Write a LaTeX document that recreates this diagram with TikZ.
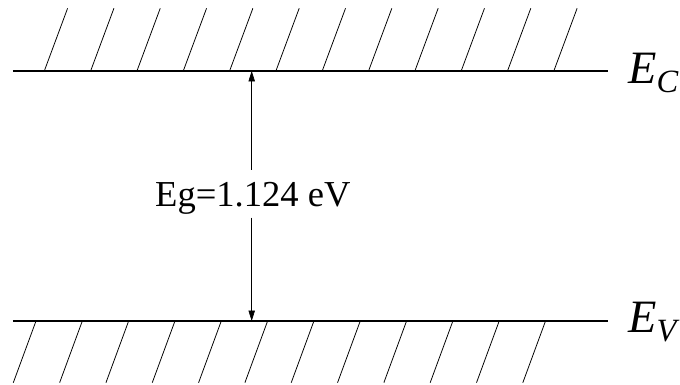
\documentclass[tikz,border=0pt]{standalone}
\usepackage{amsmath}
\usepackage{fontspec}
\setmainfont{Liberation Serif}
\usetikzlibrary{arrows.meta,positioning}
\begin{document}
\begin{tikzpicture}[
    banda/.style={line width=0.8pt},
    rayado/.style={line width=0.55pt},
    flecha/.style={line width=0.5pt,-{Triangle[length=2.6mm,width=1.6mm]}},
    nivel/.style={anchor=base west,inner sep=0pt,font=\fontsize{33}{40}\selectfont}]
	\useasboundingbox (0,0) rectangle (17,9.625);

		%Banda de conduccion
		\draw[banda] (0.325,7.85) -- (15.2,7.85);
		\foreach \i in {0,...,11}
		  \draw[rayado] (1.1075+1.158*\i,7.85) -- (1.69+1.158*\i,9.4175);
		\node[nivel] (ec) at (15.7,7.54) {$\textit{E}_{\textit{C}}$};

		%Banda de valencia
		\draw[banda] (0.325,1.6) -- (15.2,1.6);
		\draw[line width=1.6pt] (5.42,1.6) -- (6.54,1.6);
		\foreach \i in {0,...,11}
		  \draw[rayado] (0.9+1.158*\i,1.6) -- (0.3325+1.158*\i,0.0575);
		\node[nivel] (ev) at (15.7,1.31) {$\textit{E}_{\textit{V}}$};

		%Ancho de la banda prohibida
		\coordinate (arriba) at (6.2925,7.85);
		\coordinate (abajo) at (6.2925,1.6);
		\node[anchor=base,inner sep=0pt,font=\fontsize{26}{31}\selectfont] (gap) at (6.32,4.4575) {Eg=1.124 eV};
		\draw[flecha] ([yshift=9pt]gap.north -| arriba) -- (arriba);
		\draw[flecha] ([yshift=-2pt]gap.south -| abajo) -- (abajo);

\end{tikzpicture}
\end{document}
